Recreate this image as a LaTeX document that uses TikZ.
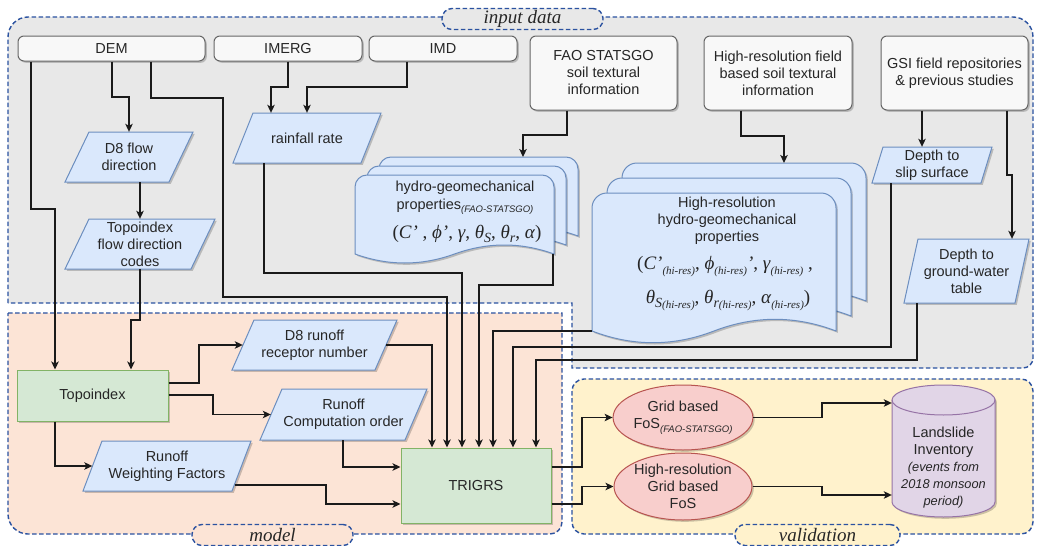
\documentclass[tikz,border=0pt]{standalone}
\usepackage{fontspec}
\setmainfont{Liberation Sans}
\newfontfamily\tms{Liberation Serif}
\usetikzlibrary{shapes.geometric,arrows.meta,shadows,calc}

\definecolor{txt}{HTML}{262626}
\definecolor{regb}{HTML}{2B52A0}
\definecolor{inputf}{HTML}{E8E8E8}
\definecolor{modelf}{HTML}{FCE4D6}
\definecolor{valf}{HTML}{FFF2CC}
\definecolor{boxf}{HTML}{F8F8F8}
\definecolor{boxb}{HTML}{666666}
\definecolor{bluef}{HTML}{DAE8FC}
\definecolor{bluel}{HTML}{6C8EBF}
\definecolor{greenf}{HTML}{D5E8D4}
\definecolor{greenl}{HTML}{82B366}
\definecolor{redf}{HTML}{F8CECC}
\definecolor{redl}{HTML}{B85450}
\definecolor{purpf}{HTML}{E1D5E7}
\definecolor{purpl}{HTML}{9673A6}
\definecolor{linec}{HTML}{1A1A1A}

% parallelogram: name, cx, cy, total width, height, skew, text
\newcommand\pgm[7]{%
  \path[pshape] ({#2-#4/2+#6},{#3-#5/2}) -- ({#2+#4/2},{#3-#5/2}) -- ({#2+#4/2-#6},{#3+#5/2}) -- ({#2-#4/2},{#3+#5/2}) -- cycle;
  \node[ptext, minimum width={#4-#6}, minimum height=#5] (#1) at (#2,#3) {#7};}

% document sheet: x1, ytop, x2, yend, wave, radius
\newcommand\docsheet[6]{%
  \pgfmathsetmacro\dw{#3-#1}%
  \pgfmathsetmacro\dxm{(#1+#3)/2}%
  \path[docst] (#1,#4) -- (#1,{#2+#6}) arc[start angle=180,end angle=270,radius=#6]
    -- ({#3-#6},#2) arc[start angle=270,end angle=360,radius=#6] -- (#3,#4)
    .. controls ({#3-\dw/6},{#4-0.6*#5}) and ({\dxm+\dw/6},{#4-0.6*#5}) .. (\dxm,#4)
    .. controls ({\dxm-\dw/6},{#4+0.6*#5}) and ({#1+\dw/6},{#4+0.6*#5}) .. (#1,#4) -- cycle;}

\newcommand\ssub[1]{\raisebox{-4.5pt}{\fontsize{14}{14}\selectfont\itshape #1}}
\newcommand\hsub{\raisebox{-5pt}{\fontsize{11}{11}\selectfont\itshape (hi-res)}}
\newcommand\fsub[1]{\raisebox{-3.5pt}{\fontsize{9.5}{10}\selectfont\itshape #1}}

\begin{document}
\begin{tikzpicture}[x=1pt,y=-1pt, font=\fontsize{14.5}{17}\selectfont,
  every node/.style={text=txt},
  shadowed/.style={drop shadow={shadow xshift=1.8pt, shadow yshift=-1.8pt, fill=black, opacity=0.2}},
  region/.style={draw=regb, line width=1.4pt, dash pattern=on 4.5pt off 2.5pt},
  tagbox/.style={region, rounded corners=10pt, inner sep=0, minimum height=21pt, font=\tms\itshape\fontsize{19}{20}\selectfont},
  inbox/.style={draw=boxb, line width=1pt, fill=boxf, rounded corners=6pt, shadowed, align=center, inner sep=0},
  pshape/.style={draw=bluel, fill=bluef, line width=1pt, shadowed},
  ptext/.style={align=center, inner sep=0},
  gbox/.style={draw=greenl, fill=greenf, line width=1pt, shadowed, inner sep=0},
  ell/.style={ellipse, draw=redl, fill=redf, line width=1pt, shadowed, align=center, inner sep=0},
  docst/.style={draw=bluel, fill=bluef, line width=1pt, shadowed},
  cylst/.style={draw=purpl, fill=purpf, line width=1pt},
  conn/.style={line width=1.2pt, draw=linec, -{Stealth[length=8pt,width=7.5pt,inset=2pt]}},
  mathf/.style={ptext, font=\tms\fontsize{19}{20}\selectfont},
]
\useasboundingbox (0,0) rectangle (1037,546);
\fill[white] (0,0) rectangle (1037,546);

% ---------- regions ----------
\path[region, fill=inputf] (8,303) -- (8,37) arc[start angle=180,end angle=270,radius=20]
  -- (1013,17) arc[start angle=270,end angle=360,radius=20]
  -- (1033,358) arc[start angle=0,end angle=90,radius=10]
  -- (572,368) -- (572,303) -- cycle;
\path[region, fill=modelf] (8,313) -- (562,313) -- (562,522) arc[start angle=0,end angle=90,radius=12]
  -- (28,534) arc[start angle=90,end angle=180,radius=20] -- cycle;
\path[region, fill=valf, rounded corners=12pt] (572,379) rectangle (1033,534);

\node[tagbox, fill=inputf, minimum width=161] (tagin) at (522.5,19) {input data};
\node[tagbox, fill=modelf, minimum width=161] (tagmodel) at (272.5,535) {model};
\node[tagbox, fill=valf, minimum width=165] (tagval) at (817.5,535) {validation};

% ---------- input boxes ----------
\node[inbox, minimum width=187, minimum height=25] (dem) at (111.5,48.5) {DEM};
\node[inbox, minimum width=148, minimum height=25] (imerg) at (288,48.5) {IMERG};
\node[inbox, minimum width=148, minimum height=25] (imd) at (443,48.5) {IMD};
\node[inbox, minimum width=147, minimum height=74] (fao) at (603.5,73) {FAO STATSGO\\soil textural\\information};
\node[inbox, minimum width=148, minimum height=74] (hrf) at (778,73) {High-resolution field\\based soil textural\\information};
\node[inbox, minimum width=147, minimum height=74] (gsi) at (954.5,73) {GSI field repositories\\\& previous studies};

% ---------- parallelograms ----------
\pgm{d8}{129}{157}{128}{50}{24}{D8 flow\\direction}
\pgm{rain}{307}{138}{148}{50}{20}{rainfall rate}
\pgm{codes}{140}{244}{150}{50}{24}{Topoindex\\flow direction\\codes}
\pgm{slip}{932}{165}{120}{36}{11}{Depth to\\slip surface}
\pgm{gw}{966.5}{271}{125}{64}{14}{Depth to\\ground-water\\table}
\pgm{d8r}{314.5}{345}{165}{50}{22}{D8 runoff\\receptor number}
\pgm{rco}{343.5}{414.5}{167}{51}{22}{Runoff\\Computation order}
\pgm{rwf}{167}{466}{168}{50}{19}{Runoff\\Weighting Factors}

% ---------- document stacks ----------
\docsheet{379}{157}{578}{236}{20}{12}
\docsheet{367}{166}{566}{245}{20}{12}
\docsheet{355}{175}{554}{254}{20}{12}
\node[ptext, anchor=base] (faot1) at (465,191) {hydro-geomechanical};
\node[ptext, anchor=base] (faot2) at (465,209) {properties\fsub{(FAO-STATSGO)}};
\node[mathf, anchor=base] (faot3) at (467,238) {(\textit{C’} , \textit{ϕ’}, \textit{γ}, \textit{θ}\ssub{S}, \textit{θ}\ssub{r}, \textit{α})};
\coordinate (faoin) at (523,157);
\coordinate (faoout) at (553,254);

\docsheet{622}{163}{866}{301}{26}{15}
\docsheet{607}{178}{851}{316}{26}{15}
\docsheet{592}{193}{836}{331}{26}{15}
\node[ptext, anchor=base] (hrt1) at (727,207) {High-resolution};
\node[ptext, anchor=base] (hrt2) at (727,224) {hydro-geomechanical};
\node[ptext, anchor=base] (hrt3) at (727,241) {properties};
\node[mathf, anchor=base] (hrt4) at (725,269) {(\textit{C’}\hsub, \textit{ϕ}\hsub\textit{’}, \textit{γ}\hsub~,};
\node[mathf, anchor=base] (hrt5) at (728,303) {\textit{θ}\ssub{S}\hsub, \textit{θ}\ssub{r}\hsub, \textit{α}\hsub)};
\coordinate (hrin) at (784,163);
\coordinate (hrout) at (592,331);

% ---------- model boxes ----------
\node[gbox, minimum width=151, minimum height=51] (topo) at (92.5,395.5) {Topoindex};
\node[gbox, minimum width=150, minimum height=75] (trigrs) at (476,485.5) {TRIGRS};

% ---------- validation ----------
\node[ell, minimum width=138, minimum height=65] (fos1) at (683,417.5) {Grid based\\FoS\fsub{(FAO-STATSGO)}};
\node[ell, minimum width=138, minimum height=67] (fos2) at (683,486.5) {High-resolution\\Grid based\\FoS};

\path[cylst, shadowed] (892,400) -- (892,502) arc[start angle=180,end angle=0,x radius=51.5,y radius=15]
  -- (995,400) arc[start angle=0,end angle=-180,x radius=51.5,y radius=15] -- cycle;
\draw[draw=purpl, line width=1pt] (892,400) arc[start angle=180,end angle=0,x radius=51.5,y radius=15];
\node[inner sep=0, minimum width=103, minimum height=132] (inv) at (943.5,451) {};
\node[ptext] (invtxt) at (943.5,468) {Landslide\\Inventory\\{\itshape\fontsize{12.8}{17}\selectfont (events from}\\{\itshape\fontsize{12.8}{17}\selectfont 2018 monsoon}\\{\itshape\fontsize{12.8}{17}\selectfont period)}};

% ---------- connectors ----------
\draw[conn] (31,0 |- dem.south) -- (31,209) -| (55,0 |- topo.north);
\draw[conn] (112,0 |- dem.south) -- (112,97) -| (d8.north);
\draw[conn] (151,0 |- dem.south) -- (151,98) -| (223,297) -| (447,0 |- trigrs.north);
\draw[conn] (imerg.south) -- (288,87) -| (271,0 |- rain.north);
\draw[conn] (407,0 |- imd.south) -- (407,87) -| (307,0 |- rain.north);
\draw[conn] (140,0 |- d8.south) -- (140,0 |- codes.north);
\draw[conn] (140,0 |- codes.south) -- (140,320) -| (131,0 |- topo.north);
\draw[conn] (567,0 |- fao.south) -- (567,135) -| (faoin);
\draw[conn] (741,0 |- hrf.south) -- (741,136) -| (hrin);
\draw[conn] (922,0 |- gsi.south) -- (922,0 |- slip.north);
\draw[conn] (1007,0 |- gsi.south) -- (1007,175) -| (1012,0 |- gw.north);

\draw[conn] (topo.east |- 0,383) -- (199,383) |- (d8r.west);
\draw[conn] (topo.east |- 0,395) -- (213,395) |- (rco.west);
\draw[conn] (55,0 |- topo.south) |- (rwf.west);
\draw[conn] (343,0 |- rco.south) |- (trigrs.west |- 0,467);
\draw[conn] ($(rwf.east)+(-7,19)$) -- (326,485) |- (trigrs.west |- 0,504);

\draw[conn] (d8r.east) -| (432,0 |- trigrs.north);
\draw[conn] (264,0 |- rain.south) -- (264,273) -| (462,0 |- trigrs.north);
\draw[conn] (faoout) -- (553,285) -| (479,0 |- trigrs.north);
\draw[conn] (hrout) -| (493,0 |- trigrs.north);
\draw[conn] (891,0 |- slip.south) -- (891,347) -| (513,0 |- trigrs.north);
\draw[conn] (917,0 |- gw.south) -- (917,360) -| (536,0 |- trigrs.north);

\draw[conn] (trigrs.east |- 0,467) -- (582,467) |- (fos1.west);
\draw[conn] (trigrs.east |- 0,504) -- (582,504) |- (fos2.west);
\draw[conn] (fos1.east) -- (822,417.5) |- (inv.west |- 0,403);
\draw[conn] (fos2.east) -- (822,486.5) |- (inv.west |- 0,495);
\end{tikzpicture}
\end{document}
